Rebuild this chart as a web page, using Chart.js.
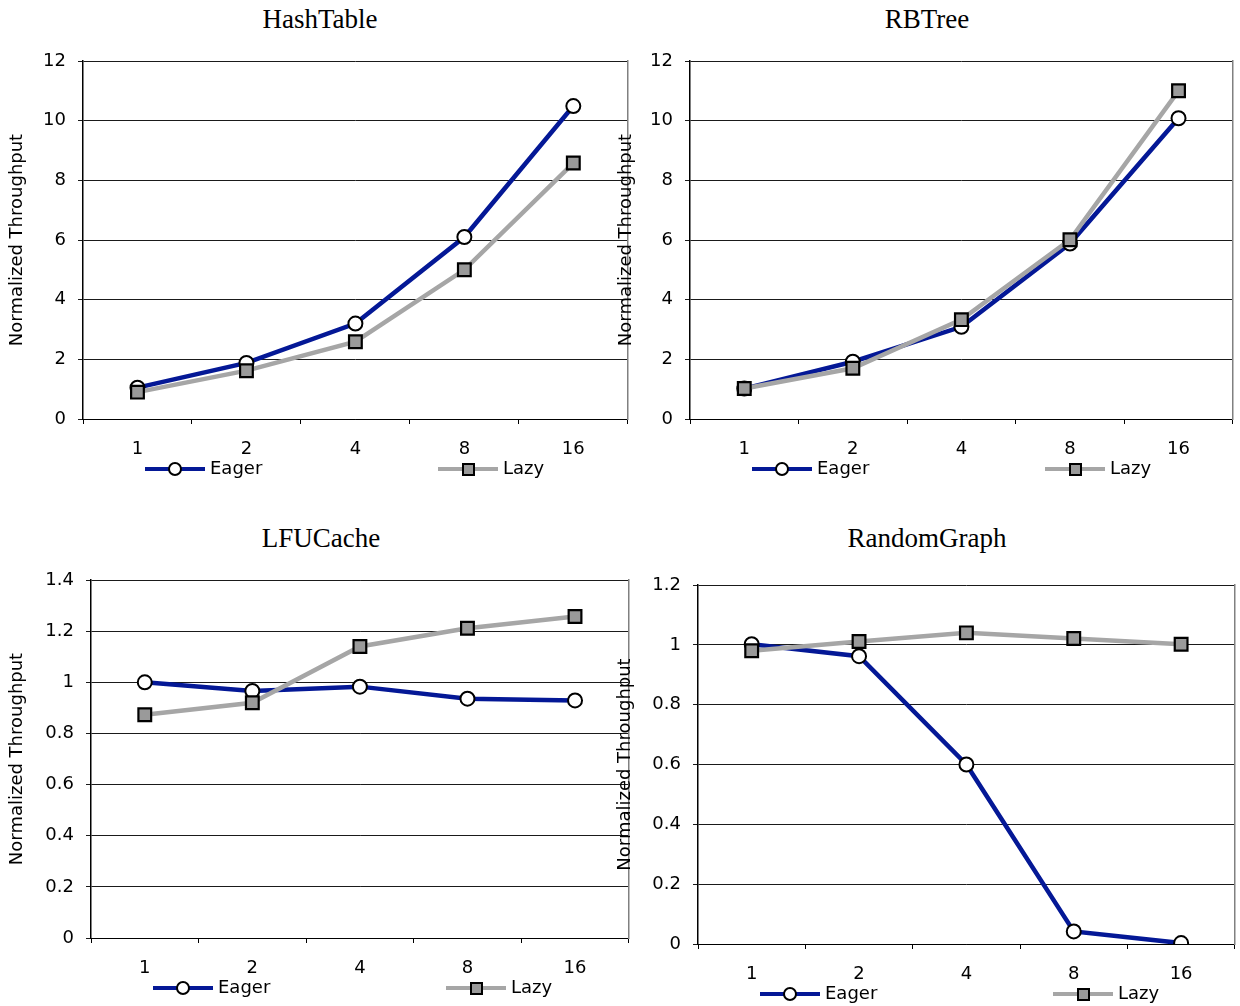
<!DOCTYPE html>
<html>
<head>
<meta charset="utf-8">
<script src="https://cdn.jsdelivr.net/npm/chart.js@4.4.1/dist/chart.umd.min.js"></script>
<style>
  body { margin:0; background:#fff; width:1240px; height:1006px; position:relative; overflow:hidden;
         font-family:'DejaVu Sans', Verdana, sans-serif; }
  canvas { position:absolute; }
  .ttl { position:absolute; font-family:'Liberation Serif','Times New Roman',serif; font-size:27px;
         line-height:27px; transform:translateX(-50%); white-space:nowrap; color:#000; }
  .lg { position:absolute; height:20px; font-size:18px; line-height:20px; color:#000; white-space:nowrap; }
  .lg .ln { position:absolute; left:0; top:8px; width:60px; height:4px; }
  .lg .mk { position:absolute; box-sizing:border-box; border:2px solid #000; }
  .lg .tx { position:absolute; left:65px; top:-1px; }
</style>
</head>
<body>
<script>
'use strict';
// thread counts on the x axis
const threads = ['1', '2', '4', '8', '16'];
const seriesNames = ['Eager', 'Lazy'];

// normalized throughput
const hashEager = [1.05, 1.88, 3.2, 6.1, 10.49];
const hashLazy  = [0.9, 1.62, 2.59, 5.0, 8.58];
const rbEager   = [1.02, 1.92, 3.09, 5.88, 10.08];
const rbLazy    = [1.02, 1.7, 3.33, 6.01, 11.0];
const lfuEager  = [1.0, 0.966, 0.983, 0.936, 0.929];
const lfuLazy   = [0.873, 0.92, 1.14, 1.211, 1.257];
const rgEager   = [1.002, 0.962, 0.6, 0.042, 0.003];
const rgLazy    = [0.98, 1.011, 1.04, 1.021, 1.002];

const EAGER = '#041896', LAZY = '#a6a6a6', LAZY_MK = '#9a9a9a';

// panel boxes: plot area edges + where the canvas starts
const panels = [
  {title:'HashTable',   eager:hashEager, lazy:hashLazy, max:12,  step:2,   L:0,   pl:83,  pr:630,  pt:61,  pb:419, tpad:7, tx:320, ty:6},
  {title:'RBTree',      eager:rbEager,   lazy:rbLazy,   max:12,  step:2,   L:616, pl:690, pr:1235, pt:61,  pb:419, tpad:0, tx:927, ty:6},
  {title:'LFUCache',    eager:lfuEager,  lazy:lfuLazy,  max:1.4, step:0.2, L:0,   pl:91,  pr:631,  pt:580, pb:938, tpad:7, tx:321, ty:525},
  {title:'RandomGraph', eager:rgEager,   lazy:rgLazy,   max:1.2, step:0.2, L:615, pl:698, pr:1237, pt:585, pb:944, tpad:0, tx:927, ty:525}
];
const TOP_PAD = 23;

Chart.defaults.font.family = "'DejaVu Sans', Verdana, sans-serif";
Chart.defaults.color = '#000';

function addLegend(p) {
  const items = [
    {name:seriesNames[0], col:EAGER, dx:62,  round:true,  fill:'#fff'},
    {name:seriesNames[1], col:LAZY,  dx:355, round:false, fill:LAZY_MK}
  ];
  items.forEach(it => {
    const d = document.createElement('div');
    d.className = 'lg';
    d.style.left = (p.pl + it.dx) + 'px';
    d.style.top = (p.pb + 40) + 'px';
    const sz = it.round ? 14 : 13;
    d.innerHTML = `<div class="ln" style="background:${it.col}"></div>
      <div class="mk" style="width:${sz}px;height:${sz}px;left:${30 - sz/2}px;top:${10 - sz/2}px;background:${it.fill};border-radius:${it.round ? '50%' : '0'}"></div>
      <span class="tx">${it.name}</span>`;
    document.body.appendChild(d);
  });
}

panels.forEach(p => {
  const T = p.pt - TOP_PAD;
  const W = p.pr + 9 - p.L;
  const H = p.pb + 40 - T;
  const cv = document.createElement('canvas');
  cv.width = W; cv.height = H;
  cv.style.left = p.L + 'px'; cv.style.top = T + 'px';
  cv.style.width = W + 'px'; cv.style.height = H + 'px';
  document.body.appendChild(cv);

  const t = document.createElement('div');
  t.className = 'ttl';
  t.textContent = p.title;
  t.style.left = p.tx + 'px'; t.style.top = p.ty + 'px';
  document.body.appendChild(t);

  new Chart(cv, {
    type: 'line',
    data: {
      labels: threads,
      datasets: [
        {label:seriesNames[0], data:p.eager, order:1, borderColor:EAGER, borderWidth:4.5,
         pointStyle:'circle', pointRadius:7, pointBackgroundColor:'#fff', pointBorderColor:'#000', pointBorderWidth:2, tension:0},
        {label:seriesNames[1], data:p.lazy, order:0, borderColor:LAZY, borderWidth:4.5,
         pointStyle:'rect', pointRadius:9, pointBackgroundColor:LAZY_MK, pointBorderColor:'#000', pointBorderWidth:2.2, tension:0}
      ]
    },
    options: {
      responsive:false, animation:false, devicePixelRatio:1,
      layout:{padding:{top:TOP_PAD, right:3, left:0, bottom:0}},
      plugins:{legend:{display:false}, tooltip:{enabled:false}},
      scales:{
        x:{
          offset:true,
          grid:{offset:true, drawOnChartArea:false, drawTicks:true, tickLength:5, color:'#000'},
          border:{display:true, color:'#000', width:1},
          ticks:{font:{size:18}, padding:15, maxRotation:0},
          afterFit: s => { s.height = 40; }
        },
        y:{
          min:0, max:p.max,
          grid:{color:'#1a1a1a', lineWidth:1, tickLength:5, drawTicks:true},
          border:{display:true, color:'#000', width:1.5},
          ticks:{stepSize:p.step, font:{size:18}, padding:12, callback: v => String(Number(v.toFixed(1)))},
          title:{display:true, text:'Normalized Throughput', font:{size:18}, padding:{top:p.tpad, bottom:0}},
          afterFit: s => { s.width = p.pl - p.L; }
        },
        y2:{
          position:'right', display:true,
          ticks:{display:false},
          grid:{drawOnChartArea:false, drawTicks:false},
          border:{display:true, color:'#808080', width:1.5},
          afterFit: s => { s.width = 0; }
        }
      }
    }
  });
  addLegend(p);
});
</script>
</body>
</html>
